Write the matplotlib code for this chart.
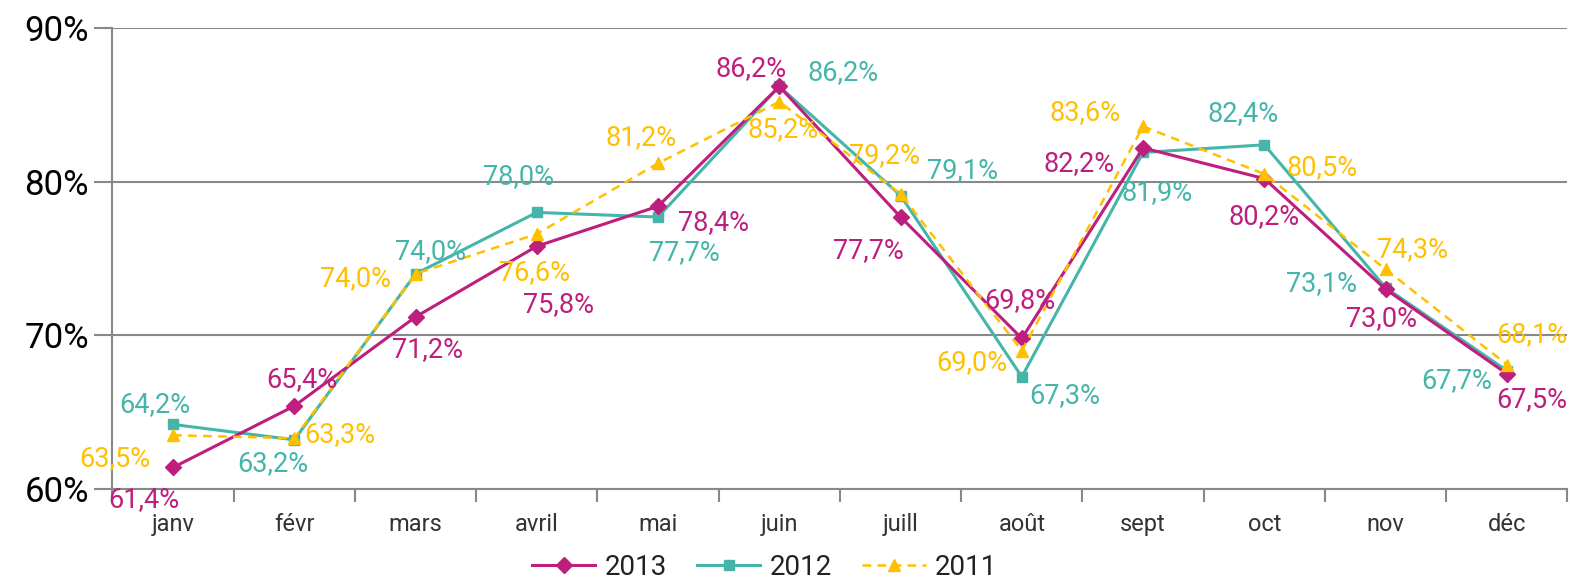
# Taux mensuels 2011-2013
import numpy as np
import matplotlib.pyplot as plt

plt.rcParams['font.family'] = ['Roboto', 'DejaVu Sans']

# %% Données
mois = ['janv', 'févr', 'mars', 'avril', 'mai', 'juin',
        'juill', 'août', 'sept', 'oct', 'nov', 'déc']
v2013 = [61.4, 65.4, 71.2, 75.8, 78.4, 86.2, 77.7, 69.8, 82.2, 80.2, 73.0, 67.5]
v2012 = [64.2, 63.2, 74.0, 78.0, 77.7, 86.2, 79.1, 67.3, 81.9, 82.4, 73.1, 67.7]
v2011 = [63.5, 63.3, 74.0, 76.6, 81.2, 85.2, 79.2, 69.0, 83.6, 80.5, 74.3, 68.1]

# décalage des étiquettes (pixels, y vers le bas)
dec2013 = [(-29, 32), (8, -26), (12, 33), (22, 58), (55, 16), (-28, -18),
           (-32, 34), (-2, -38), (-64, 16), (0, 38), (-4, 29), (25, 26)]
dec2012 = [(-18, -20), (-21, 24), (15, -22), (-18, -36), (26, 36), (64, -14),
           (62, -25), (43, 19), (14, 40), (-21, -31), (-64, -4), (-50, 10)]
dec2011 = [(-58, 23), (46, -4), (-60, 5), (-2, 39), (-17, -26), (4, 28),
           (-16, -38), (-50, 12), (-58, -14), (58, -6), (27, -20), (25, -30)]

c13, c12, c11 = '#BE1E7D', '#45B5AA', '#FFC000'

# %% Figure
fig = plt.figure(figsize=(15.7, 5.84), dpi=100)
ax = fig.add_axes([0.0716, 0.1627, 0.9268, 0.7893])
x = np.arange(len(mois))

ax.plot(x, v2013, color=c13, lw=2.2, marker='D', ms=8, label='2013', zorder=4)
ax.plot(x, v2012, color=c12, lw=2.2, marker='s', ms=6.5, label='2012', zorder=3)
ax.plot(x, v2011, color=c11, lw=1.8, ls=(0, (3.5, 2.5)), marker='^', ms=9,
        label='2011', zorder=5)

for vals, decs, c in [(v2013, dec2013, c13), (v2012, dec2012, c12), (v2011, dec2011, c11)]:
    for i, (v, (dx, dy)) in enumerate(zip(vals, decs)):
        ax.annotate(f'{v:.1f}%'.replace('.', ','), (i, v), xytext=(dx, -dy),
                    textcoords='offset pixels', ha='center', va='center',
                    color=c, fontsize=19.5, zorder=6)

ax.set_xlim(-0.5, 11.5)
ax.set_ylim(60, 90)
ax.set_yticks([60, 70, 80, 90])
ax.set_yticklabels(['60%', '70%', '80%', '90%'], fontsize=25)
ax.yaxis.grid(True, color='#888888', lw=1.5)
ax.set_axisbelow(True)

ax.set_xticks(np.arange(-0.5, 12, 1))
ax.set_xticklabels([])
ax.set_xticks(x, minor=True)
ax.set_xticklabels(mois, minor=True, fontsize=17, color='#333333')
ax.tick_params(axis='x', which='major', length=9, width=1.5, color='#888888')
ax.tick_params(axis='x', which='minor', length=0, pad=17)
ax.tick_params(axis='y', length=13, width=1.5, color='#888888', pad=4)

for s in ['top', 'right']:
    ax.spines[s].set_visible(False)
for s in ['left', 'bottom']:
    ax.spines[s].set_color('#888888')
    ax.spines[s].set_linewidth(1.5)

fig.legend(loc='center', bbox_to_anchor=(0.487, 0.028), ncol=3, frameon=False,
           fontsize=20, handlelength=2.3, columnspacing=1.05, handletextpad=0.35,
           labelcolor='#222222', borderpad=0.1)

plt.savefig('out.png')
